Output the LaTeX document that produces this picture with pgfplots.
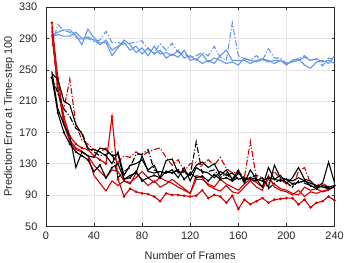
\documentclass[border=0pt]{standalone}
\usepackage{pgfplots}
\usepackage{pgfplotstable}
\pgfplotsset{compat=1.18}
\usepackage{fontspec}
\setmainfont{Liberation Sans}
\definecolor{mb}{RGB}{100,149,237}
\definecolor{mr}{RGB}{208,0,0}
\definecolor{axc}{RGB}{38,38,38}
\pgfplotstableread{
x b1 b2 b3 rA rB rC rD kE kF kG kH
5 294 292 280 300 295 310 305 248 245 242 240
10 298 295 308 225 230 240 220 200 238 220 195
15 301 293 300 185 180 190 200 180 210 200 170
20 301 293 298 160 158 165 238 165 205 190 155
25 294 298 292 150 148 155 180 125 180 175 145
30 282 290 288 146 145 150 160 145 168 170 140
35 302 292 290 140 140 148 155 140 148 150 135
40 291 288 286 128 115 140 148 138 148 145 120
45 284 282 288 120 105 135 145 150 145 140 128
50 285 288 299 112 95 130 150 148 140 142 112
55 268 275 285 122 108 190 140 140 130 145 125
60 278 280 285 120 102 110 132 142 145 112 130
65 288 285 282 108 108 88 140 110 115 120 110
70 282 275 284 106 104 98 138 115 128 125 112
75 272 280 285 112 118 94 145 118 130 142 120
80 278 270 287 120 110 92 140 140 135 142 108
85 268 278 276 112 102 91 145 120 122 148 112
90 280 270 272 106 108 88 148 118 128 122 115
95 270 275 283 112 100 82 150 120 112 118 112
100 272 265 275 108 104 92 138 118 134 118 120
105 268 270 284 105 110 90 128 122 136 122 118
110 275 266 272 100 104 90 135 112 118 120 122
115 265 275 270 96 98 89 120 125 120 118 110
120 268 262 266 92 92 88 130 108 115 115 118
125 262 264 268 115 110 89 132 125 128 158 112
130 270 258 272 112 110 96 128 120 132 118 114
135 260 262 268 102 104 86 135 118 125 120 108
140 265 258 280 98 100 90 128 112 130 122 116
145 262 268 266 95 110 88 138 120 115 112 110
150 258 275 262 102 104 80 124 115 122 118 112
155 260 262 310 94 100 89 118 118 110 108 108
160 256 262 268 92 96 72 120 110 122 112 118
165 265 262 264 100 104 84 112 112 105 108 110
170 262 258 262 108 110 78 158 110 122 112 112
175 260 262 268 100 106 82 112 108 110 115 110
180 263 264 262 96 100 86 108 112 100 112 108
185 260 262 277 115 110 80 104 100 125 98 112
190 262 258 265 100 104 84 120 128 110 105 110
195 262 262 265 96 98 85 110 112 115 110 108
200 258 256 258 94 96 86 104 110 105 106 110
205 260 262 262 90 92 86 100 108 112 100 104
210 262 264 264 96 90 78 120 112 125 108 106
215 266 256 268 88 100 84 125 108 110 105 108
220 262 252 262 94 96 74 105 105 108 102 102
225 264 260 264 92 98 80 102 102 100 100 98
230 260 262 255 95 94 82 105 100 105 102 102
235 262 258 265 97 96 88 100 98 132 98 100
240 258 268 262 100 102 83 102 100 105 100 102
}\data
\begin{document}
\begin{tikzpicture}[x=1bp,y=1bp]
\begin{axis}[
  scale only axis,
  width=290bp, height=220bp,
  xmin=0, xmax=240, ymin=50, ymax=330,
  xtick={0,40,...,240}, ytick={50,90,...,330},
  grid=major,
  major grid style={draw=black!10, line width=0.5bp},
  tick align=inside,
  axis line style={draw=axc, line width=0.5bp},
  tick style={draw=axc, line width=0.5bp},
  major tick length=3bp,
  every tick label/.append style={font=\fontsize{11}{12}\selectfont, text=axc},
  yticklabel style={xshift=-5bp},
  xticklabel style={yshift=-2bp},
  /pgf/number format/assume math mode=true,
  xlabel={Number of Frames},
  ylabel={Prediction Error at Time-step 100},
  label style={font=\fontsize{11}{12}\selectfont, text=axc},
  xlabel style={at={(axis description cs:0.5,0)}, anchor=center, yshift=-29bp},
  ylabel style={at={(axis description cs:0,0.5)}, anchor=center, yshift=37bp},
  every axis plot/.append style={line width=1.1bp},
  dashdot/.style={dash pattern=on 6bp off 2bp on 1.2bp off 2bp},
]
\coordinate (O) at (rel axis cs:0,0);
\addplot[mb, no marks] table[x=x,y=b1]{\data};
\addplot[mb, no marks] table[x=x,y=b2]{\data};
\addplot[mb, no marks, dashdot] table[x=x,y=b3]{\data};
\addplot[mr, no marks] table[x=x,y=rA]{\data};
\addplot[mr, no marks] table[x=x,y=rB]{\data};
\addplot[mr, mark=*, mark size=0.7bp] table[x=x,y=rC]{\data};
\addplot[mr, no marks, dashdot] table[x=x,y=rD]{\data};
\addplot[black, no marks] table[x=x,y=kE]{\data};
\addplot[black, no marks] table[x=x,y=kF]{\data};
\addplot[black, no marks, dashdot] table[x=x,y=kG]{\data};
\addplot[black, mark=*, mark size=0.5bp] table[x=x,y=kH]{\data};
\end{axis}
\path (O) ++(-46bp,-36bp) rectangle ++(347bp,263bp);
\end{tikzpicture}
\end{document}
